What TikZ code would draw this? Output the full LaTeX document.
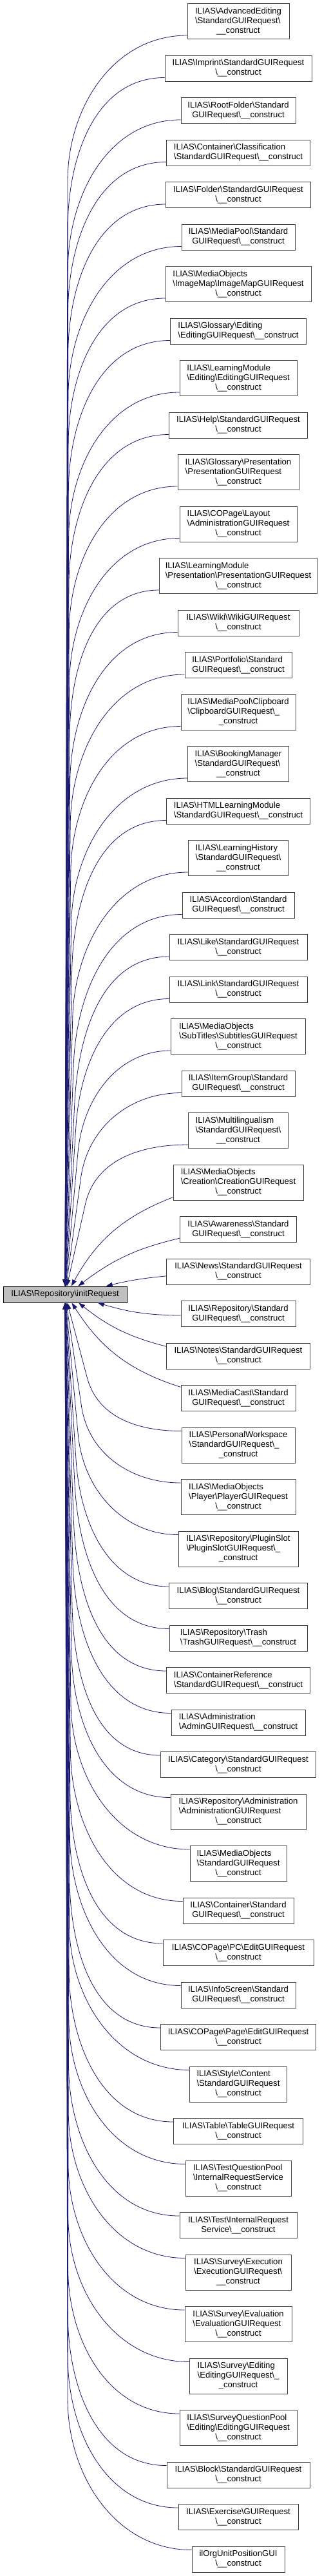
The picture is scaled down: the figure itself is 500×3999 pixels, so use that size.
\documentclass[tikz,border=0pt]{standalone}
\usepackage{fontspec}
\setmainfont{Liberation Sans}
\usepackage{xcolor}
\usepackage{tikz}
\usetikzlibrary{arrows.meta, positioning}
\definecolor{clrEdge}{RGB}{25,25,112}
\definecolor{clrRoot}{RGB}{191,191,191}
\definecolor{clrLine}{RGB}{64,64,64}
\newcommand{\bsl}{\textbackslash}
\newcommand{\twoline}[2]{\begin{tabular}{@{}l@{}}#1\\\multicolumn{1}{@{}c@{}}{#2}\end{tabular}}
\newcommand{\threeline}[3]{\begin{tabular}{@{}l@{}}#1\\#2\\\multicolumn{1}{@{}c@{}}{#3}\end{tabular}}

\begin{document}
\begin{tikzpicture}[
  x=1pt, y=1pt,
  node distance=24.5pt,
  box/.style={
    rectangle, draw=clrLine, line width=1pt, fill=white,
    font=\fontsize{13.1}{15}\selectfont, inner sep=4pt
  },
  two/.style={box, minimum height=40pt},
  three/.style={box, minimum height=55pt},
  root/.style={box, draw=black, fill=clrRoot, minimum width=192pt, minimum height=25pt},
  call/.style={-{Triangle[length=10pt,width=7pt]}, draw=clrEdge, line width=0.8pt}
]
\useasboundingbox (0,0) rectangle (500,-3999);

\node[root] (init) at (101,-2009.5) {ILIAS\bsl Repository\bsl initRequest};

\node[three, minimum width=158pt] (ae) at (370,-33) {\threeline{ILIAS\bsl AdvancedEditing}{\bsl StandardGUIRequest\bsl}{\_\_construct}};
\node[two, minimum width=228pt, below=of ae]   (imp)  {\twoline{ILIAS\bsl Imprint\bsl StandardGUIRequest}{\bsl\_\_construct}};
\node[two, minimum width=178pt, below=of imp]  (rf)   {\twoline{ILIAS\bsl RootFolder\bsl Standard}{GUIRequest\bsl\_\_construct}};
\node[two, minimum width=223pt, below=of rf]   (ccl)  {\twoline{ILIAS\bsl Container\bsl Classification}{\bsl StandardGUIRequest\bsl\_\_construct}};
\node[two, minimum width=225pt, below=of ccl]  (fld)  {\twoline{ILIAS\bsl Folder\bsl StandardGUIRequest}{\bsl\_\_construct}};
\node[two, minimum width=176pt, below=of fld]  (mps)  {\twoline{ILIAS\bsl MediaPool\bsl Standard}{GUIRequest\bsl\_\_construct}};
\node[three, minimum width=226pt, below=of mps]  (moim) {\threeline{ILIAS\bsl MediaObjects}{\bsl ImageMap\bsl ImageMapGUIRequest}{\bsl\_\_construct}};
\node[two, minimum width=211pt, below=of moim] (gle)  {\twoline{ILIAS\bsl Glossary\bsl Editing}{\bsl EditingGUIRequest\bsl\_\_construct}};
\node[three, minimum width=182pt, below=of gle]  (lme)  {\threeline{ILIAS\bsl LearningModule}{\bsl Editing\bsl EditingGUIRequest}{\bsl\_\_construct}};
\node[two, minimum width=215pt, below=of lme]  (hlp)  {\twoline{ILIAS\bsl Help\bsl StandardGUIRequest}{\bsl\_\_construct}};
\node[three, minimum width=188pt, below=of hlp]  (glp)  {\threeline{ILIAS\bsl Glossary\bsl Presentation}{\bsl PresentationGUIRequest}{\bsl\_\_construct}};
\node[three, minimum width=182pt, below=of glp]  (cpl)  {\threeline{ILIAS\bsl COPage\bsl Layout}{\bsl AdministrationGUIRequest}{\bsl\_\_construct}};
\node[three, minimum width=245pt, below=of cpl]  (lmp)  {\threeline{ILIAS\bsl LearningModule}{\bsl Presentation\bsl PresentationGUIRequest}{\bsl\_\_construct}};
\node[two, minimum width=188pt, below=of lmp]  (wik)  {\twoline{ILIAS\bsl Wiki\bsl WikiGUIRequest}{\bsl\_\_construct}};
\node[two, minimum width=166pt, below=of wik]  (prt)  {\twoline{ILIAS\bsl Portfolio\bsl Standard}{GUIRequest\bsl\_\_construct}};
\node[three, minimum width=178pt, below=of prt]  (mpc)  {\threeline{ILIAS\bsl MediaPool\bsl Clipboard}{\bsl ClipboardGUIRequest\bsl\_}{\_construct}};
\node[three, minimum width=157pt, below=of mpc]  (bkm)  {\threeline{ILIAS\bsl BookingManager}{\bsl StandardGUIRequest\bsl}{\_\_construct}};
\node[two, minimum width=223pt, below=of bkm]  (hlm)  {\twoline{ILIAS\bsl HTMLLearningModule}{\bsl StandardGUIRequest\bsl\_\_construct}};
\node[three, minimum width=155pt, below=of hlm]  (lhi)  {\threeline{ILIAS\bsl LearningHistory}{\bsl StandardGUIRequest\bsl}{\_\_construct}};
\node[two, minimum width=174pt, below=of lhi]  (acc)  {\twoline{ILIAS\bsl Accordion\bsl Standard}{GUIRequest\bsl\_\_construct}};
\node[two, minimum width=214pt, below=of acc]  (lik)  {\twoline{ILIAS\bsl Like\bsl StandardGUIRequest}{\bsl\_\_construct}};
\node[two, minimum width=214pt, below=of lik]  (lnk)  {\twoline{ILIAS\bsl Link\bsl StandardGUIRequest}{\bsl\_\_construct}};
\node[three, minimum width=209pt, below=of lnk]  (most) {\threeline{ILIAS\bsl MediaObjects}{\bsl SubTitles\bsl SubtitlesGUIRequest}{\bsl\_\_construct}};
\node[two, minimum width=176pt, below=of most] (itg)  {\twoline{ILIAS\bsl ItemGroup\bsl Standard}{GUIRequest\bsl\_\_construct}};
\node[three, minimum width=155pt, below=of itg]  (mul)  {\threeline{ILIAS\bsl Multilingualism}{\bsl StandardGUIRequest\bsl}{\_\_construct}};
\node[three, minimum width=202pt, below=of mul]  (mocr) {\threeline{ILIAS\bsl MediaObjects}{\bsl Creation\bsl CreationGUIRequest}{\bsl\_\_construct}};
\node[two, minimum width=181pt, below=of mocr] (awa)  {\twoline{ILIAS\bsl Awareness\bsl Standard}{GUIRequest\bsl\_\_construct}};
\node[two, minimum width=223pt, below=of awa]  (nws)  {\twoline{ILIAS\bsl News\bsl StandardGUIRequest}{\bsl\_\_construct}};
\node[two, minimum width=178pt, below=of nws]  (rps)  {\twoline{ILIAS\bsl Repository\bsl Standard}{GUIRequest\bsl\_\_construct}};
\node[two, minimum width=223pt, below=of rps]  (nts)  {\twoline{ILIAS\bsl Notes\bsl StandardGUIRequest}{\bsl\_\_construct}};
\node[two, minimum width=178pt, below=of nts]  (mca)  {\twoline{ILIAS\bsl MediaCast\bsl Standard}{GUIRequest\bsl\_\_construct}};
\node[three, minimum width=176pt, below=of mca]  (pws)  {\threeline{ILIAS\bsl PersonalWorkspace}{\bsl StandardGUIRequest\bsl\_}{\_construct}};
\node[three, minimum width=178pt, below=of pws]  (mopl) {\threeline{ILIAS\bsl MediaObjects}{\bsl Player\bsl PlayerGUIRequest}{\bsl\_\_construct}};
\node[three, minimum width=186pt, below=of mopl] (rpp)  {\threeline{ILIAS\bsl Repository\bsl PluginSlot}{\bsl PluginSlotGUIRequest\bsl\_}{\_construct}};
\node[two, minimum width=215pt, below=of rpp]  (blg)  {\twoline{ILIAS\bsl Blog\bsl StandardGUIRequest}{\bsl\_\_construct}};
\node[two, minimum width=214pt, below=of blg]  (rpt)  {\twoline{ILIAS\bsl Repository\bsl Trash}{\bsl TrashGUIRequest\bsl\_\_construct}};
\node[two, minimum width=223pt, below=of rpt]  (crf)  {\twoline{ILIAS\bsl ContainerReference}{\bsl StandardGUIRequest\bsl\_\_construct}};
\node[two, minimum width=208pt, below=of crf]  (adm)  {\twoline{ILIAS\bsl Administration}{\bsl AdminGUIRequest\bsl\_\_construct}};
\node[two, minimum width=241pt, below=of adm]  (cat)  {\twoline{ILIAS\bsl Category\bsl StandardGUIRequest}{\bsl\_\_construct}};
\node[three, minimum width=210pt, below=of cat]  (rpa)  {\threeline{ILIAS\bsl Repository\bsl Administration}{\bsl AdministrationGUIRequest}{\bsl\_\_construct}};
\node[three, minimum width=150pt, below=of rpa]  (mos)  {\threeline{ILIAS\bsl MediaObjects}{\bsl StandardGUIRequest}{\bsl\_\_construct}};
\node[two, minimum width=172pt, below=of mos]  (cst)  {\twoline{ILIAS\bsl Container\bsl Standard}{GUIRequest\bsl\_\_construct}};
\node[two, minimum width=234pt, below=of cst]  (cpc)  {\twoline{ILIAS\bsl COPage\bsl PC\bsl EditGUIRequest}{\bsl\_\_construct}};
\node[two, minimum width=178pt, below=of cpc]  (ifs)  {\twoline{ILIAS\bsl InfoScreen\bsl Standard}{GUIRequest\bsl\_\_construct}};
\node[two, minimum width=241pt, below=of ifs]  (cpg)  {\twoline{ILIAS\bsl COPage\bsl Page\bsl EditGUIRequest}{\bsl\_\_construct}};
\node[three, minimum width=151pt, below=of cpg]  (stc)  {\threeline{ILIAS\bsl Style\bsl Content}{\bsl StandardGUIRequest}{\bsl\_\_construct}};
\node[two, minimum width=201pt, below=of stc]  (tbl)  {\twoline{ILIAS\bsl Table\bsl TableGUIRequest}{\bsl\_\_construct}};
\node[three, minimum width=164pt, below=of tbl]  (tqp)  {\threeline{ILIAS\bsl TestQuestionPool}{\bsl InternalRequestService}{\bsl\_\_construct}};
\node[two, minimum width=182pt, below=of tqp]  (tst)  {\twoline{ILIAS\bsl Test\bsl InternalRequest}{Service\bsl\_\_construct}};
\node[three, minimum width=164pt, below=of tst]  (sve)  {\threeline{ILIAS\bsl Survey\bsl Execution}{\bsl ExecutionGUIRequest\bsl}{\_\_construct}};
\node[three, minimum width=166pt, below=of sve]  (svv)  {\threeline{ILIAS\bsl Survey\bsl Evaluation}{\bsl EvaluationGUIRequest}{\bsl\_\_construct}};
\node[three, minimum width=152pt, below=of svv]  (sved) {\threeline{ILIAS\bsl Survey\bsl Editing}{\bsl EditingGUIRequest\bsl\_}{\_construct}};
\node[three, minimum width=182pt, below=of sved] (sqp)  {\threeline{ILIAS\bsl SurveyQuestionPool}{\bsl Editing\bsl EditingGUIRequest}{\bsl\_\_construct}};
\node[two, minimum width=222pt, below=of sqp]  (blk)  {\twoline{ILIAS\bsl Block\bsl StandardGUIRequest}{\bsl\_\_construct}};
\node[two, minimum width=186pt, below=of blk]  (exc)  {\twoline{ILIAS\bsl Exercise\bsl GUIRequest}{\bsl\_\_construct}};
\node[two, minimum width=144pt, below=of exc]  (oup)  {\twoline{ilOrgUnitPositionGUI}{\bsl\_\_construct}};

% far callers: bend into the bundle, then run straight to initRequest
\foreach \n in {ae,imp,rf,ccl,fld,mps,moim,gle,lme,hlp,glp,cpl,lmp,wik,prt,mpc,bkm,hlm,lhi,acc,lik,lnk,most,itg,mul,
                pws,mopl,rpp,blg,rpt,crf,adm,cat,rpa,mos,cst,cpc,ifs,cpg,stc,tbl,tqp,tst,sve,svv,sved,sqp,blk,exc,oup}{
  \path (\n.south west); \pgfgetlastxy{\xs}{\ys}
  \path (\n.north west); \pgfgetlastxy{\xn}{\yn}
  \path (init.center); \pgfgetlastxy{\ix}{\iy}
  \pgfmathsetmacro{\yc}{(\ys+\yn)/2}
  \pgfmathsetmacro{\dy}{\yc-\iy}
  \pgfmathsetmacro{\sg}{\dy>0 ? 1 : -1}
  \pgfmathsetmacro{\sy}{\dy>0 ? \ys+6 : \yn-6}
  \pgfmathsetmacro{\R}{0.45*min(abs(\dy),550)}
  \pgfmathsetmacro{\bx}{\ix+8000/abs(\dy)}
  \pgfmathsetmacro{\by}{\yc-\sg*\R}
  \pgfmathsetmacro{\ang}{atan2(\by-\iy,\bx-\ix)}
  \draw[call] (\xs,\sy pt) to[out=180,in=\ang] (\bx pt,\by pt) -- (init);
}

% near callers
\draw[call] (mocr) to[bend right=20] (init);
\draw[call] (awa)  to[bend right=12] (init);
\draw[call] (nws)  to[bend right=4] (init);
\draw[call] (rps)  to[bend left=8] (init);
\draw[call] (nts)  to[bend left=12] (init);
\draw[call] (mca)  to[bend left=20] (init);

\end{tikzpicture}
\end{document}
